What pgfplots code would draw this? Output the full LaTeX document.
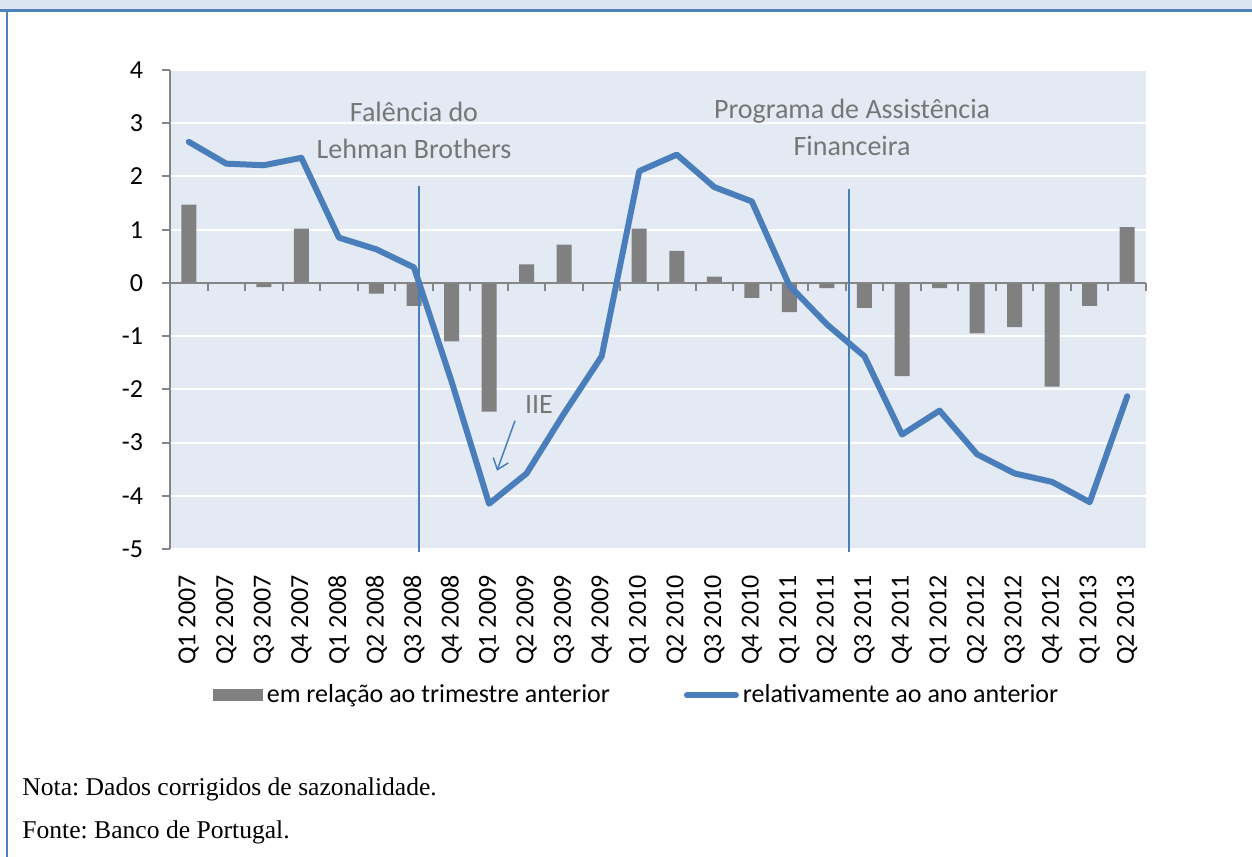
\documentclass[border=0pt]{standalone}
\usepackage{fontspec}
\setmainfont{Carlito}
\newfontfamily\notefont{Liberation Serif}
\usepackage{pgfplots}
\pgfplotsset{compat=1.18}
\usetikzlibrary{arrows.meta}

\definecolor{lineblue}{RGB}{74,126,187}
\definecolor{frameblue}{RGB}{79,129,189}
\definecolor{bandblue}{RGB}{219,229,241}
\definecolor{plotbg}{RGB}{227,234,244}
\definecolor{bargray}{RGB}{128,128,128}
\definecolor{axgray}{RGB}{134,134,134}
\definecolor{txtgray}{RGB}{118,118,118}

\begin{document}
\frenchspacing
\begin{tikzpicture}
\useasboundingbox (0,0) rectangle (626bp,428.5bp);
\fill[white] (0,0) rectangle (626bp,428.5bp);
% frame of the box
\fill[bandblue] (0,423.5bp) rectangle (626bp,428.5bp);
\draw[frameblue, line width=1.5bp] (0,423bp) -- (626bp,423bp);
\draw[frameblue, line width=1bp] (3.5bp,0) -- (3.5bp,423bp);

\begin{axis}[
  at={(85bp,154bp)}, anchor=south west,
  scale only axis,
  width=488bp, height=239.5bp,
  xmin=-0.5, xmax=25.5,
  ymin=-5, ymax=4,
  axis background/.style={fill=plotbg},
  axis x line*=bottom, axis y line*=left,
  x axis line style={draw=none},
  y axis line style={axgray, line width=1bp},
  xtick={0,...,25},
  xticklabels={Q1 2007,Q2 2007,Q3 2007,Q4 2007,Q1 2008,Q2 2008,Q3 2008,Q4 2008,
    Q1 2009,Q2 2009,Q3 2009,Q4 2009,Q1 2010,Q2 2010,Q3 2010,Q4 2010,
    Q1 2011,Q2 2011,Q3 2011,Q4 2011,Q1 2012,Q2 2012,Q3 2012,Q4 2012,Q1 2013,Q2 2013},
  x tick style={draw=none},
  xticklabel style={yshift=-9bp, rotate=90, anchor=east, inner sep=0pt,
    font=\fontsize{13bp}{15bp}\selectfont},
  ytick={-5,-4,...,4},
  y tick style={axgray, line width=1bp},
  yticklabel style={xshift=-6bp, font=\fontsize{13bp}{15bp}\selectfont},
  tick align=outside,
  major tick length=4bp,
  /pgf/number format/assume math mode=true,
  ymajorgrids,
  grid style={white, line width=1bp},
  legend columns=2,
  legend style={at={(0.478,-0.305)}, anchor=center, draw=none, fill=none,
    font=\fontsize{13bp}{15bp}\selectfont,
    nodes={inner sep=1bp},
    /tikz/every odd column/.append style={column sep=1bp},
    /tikz/every even column/.append style={column sep=36bp}},
  clip=false,
]
\addplot[ybar, bar width=7.5bp, fill=bargray, draw=none,
  legend image code/.code={\fill[bargray] (0bp,-3bp) rectangle (25bp,3bp);}]
  coordinates {
  (0,1.47)(1,-0.02)(2,-0.08)(3,1.02)(4,-0.01)(5,-0.2)(6,-0.43)(7,-1.1)
  (8,-2.42)(9,0.35)(10,0.72)(11,-0.01)(12,1.02)(13,0.6)(14,0.12)(15,-0.28)
  (16,-0.55)(17,-0.1)(18,-0.47)(19,-1.75)(20,-0.1)(21,-0.95)(22,-0.83)(23,-1.95)
  (24,-0.43)(25,1.05)};
\addlegendentry{em relação ao trimestre anterior}

% zero line with ticks at category boundaries
\draw[axgray, line width=1bp] (axis cs:-0.5,0) -- (axis cs:25.5,0);
\pgfplotsinvokeforeach{0,...,26}{
  \draw[axgray, line width=1bp] (axis cs:#1-0.5,0) -- (axis cs:#1-0.5,-0.15);
}

% event lines
\draw[lineblue, line width=0.75bp] (axis cs:6.13,1.82) -- (axis cs:6.13,-5.05);
\draw[lineblue, line width=0.75bp] (axis cs:17.59,1.77) -- (axis cs:17.59,-5.05);

\addplot[lineblue, line width=3bp, line join=round, line cap=round, mark=none,
  legend image code/.code={\draw[lineblue, line width=3bp] (0bp,0bp) -- (24.5bp,0bp);}]
  coordinates {
  (0,2.65)(1,2.24)(2,2.21)(3,2.35)(4,0.85)(5,0.63)(6,0.29)(7,-1.85)
  (8,-4.15)(9,-3.58)(10,-2.45)(11,-1.38)(12,2.1)(13,2.41)(14,1.8)(15,1.53)
  (16,-0.05)(17,-0.78)(18,-1.38)(19,-2.85)(20,-2.4)(21,-3.22)(22,-3.58)(23,-3.74)
  (24,-4.12)(25,-2.13)};
\addlegendentry{relativamente ao ano anterior}

% annotations
\node[txtgray, font=\fontsize{14bp}{18.5bp}\selectfont, align=center]
  at (axis cs:6,2.86) {Falência do\\Lehman Brothers};
\node[txtgray, font=\fontsize{14bp}{18.5bp}\selectfont, align=center]
  at (axis cs:17.67,2.92) {Programa de Assistência\\Financeira};
\node[txtgray, font=\fontsize{14bp}{16bp}\selectfont]
  at (axis cs:9.33,-2.29) {IIE};
\draw[lineblue, line width=0.75bp, -{Straight Barb[length=5bp,width=8bp]}]
  (axis cs:8.69,-2.59) -- (axis cs:8.21,-3.53);
\end{axis}

% notes
\node[anchor=base west, inner sep=0pt, font=\notefont\fontsize{12.8bp}{15bp}\selectfont]
  at (11bp,31bp) {Nota: Dados corrigidos de sazonalidade.};
\node[anchor=base west, inner sep=0pt, font=\notefont\fontsize{12.8bp}{15bp}\selectfont]
  at (11bp,9.5bp) {Fonte: Banco de Portugal.};
\end{tikzpicture}
\end{document}
